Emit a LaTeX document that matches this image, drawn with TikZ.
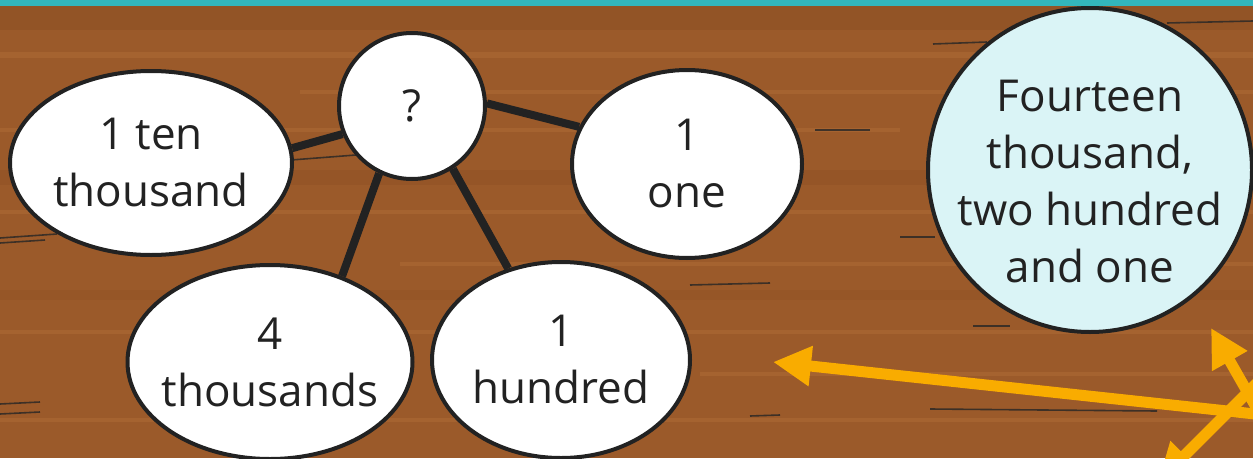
\documentclass[tikz,border=0pt]{standalone}
\usepackage{fontspec}
\setmainfont{Open Sans}
\usetikzlibrary{shapes.geometric,arrows.meta}
\definecolor{wood}{HTML}{9B5A2A}
\definecolor{woodlight}{HTML}{B8763C}
\definecolor{wooddark}{HTML}{84491F}
\definecolor{barteal}{HTML}{33B6BC}
\definecolor{ink}{HTML}{222222}
\definecolor{paleblue}{HTML}{DAF4F6}
\definecolor{amber}{HTML}{F9AC00}
\pgfdeclarelayer{bg}
\pgfdeclarelayer{links}
\pgfsetlayers{bg,links,main}
\begin{document}
\begin{tikzpicture}[x=1pt,y=-1pt,
  bubble/.style={ellipse, draw=ink, line width=4pt, fill=white, inner xsep=-10pt, inner ysep=-8pt,
    align=center, font=\fontsize{44}{57}\selectfont, text=ink},
  link/.style={draw=ink, line width=8pt},
  scratch/.style={draw=black!85, line width=1.6pt, opacity=0.8},
  streak/.style={fill=woodlight, opacity=0.35},
  arrowline/.style={draw=amber, line width=11pt, -{Triangle[length=38pt,width=38pt]}}]
\useasboundingbox (0,0) rectangle (1253,458);
\clip (0,0) rectangle (1253,458);
\begin{pgfonlayer}{bg}
\fill[wood] (0,0) rectangle (1253,458);
\fill[wooddark, opacity=0.35] (0,6) rectangle (1253,30);
\fill[streak] (0,52) rectangle (1253,58);
\fill[streak] (300,90) rectangle (1253,94);
\fill[streak] (0,128) rectangle (900,132);
\fill[wooddark, opacity=0.25] (0,170) rectangle (1253,185);
\fill[streak] (0,210) rectangle (1253,214);
\fill[streak] (400,262) rectangle (1253,266);
\fill[wooddark, opacity=0.2] (0,290) rectangle (1253,300);
\fill[streak] (0,330) rectangle (1253,334);
\fill[streak] (700,372) rectangle (1253,376);
\fill[streak] (0,418) rectangle (1253,422);
\draw[scratch] (1167,23) -- (1253,21);
\draw[scratch] (933,44) -- (987,42);
\draw[scratch] (815,130) -- (870,130);
\draw[scratch] (291,160) -- (356,155);
\draw[scratch] (0,238) -- (57,234);
\draw[scratch] (0,243) -- (45,240);
\draw[scratch] (900,237) -- (935,237);
\draw[scratch] (690,285) -- (770,283);
\draw[scratch] (973,326) -- (1010,326);
\draw[scratch] (930,409) -- (1157,411);
\draw[scratch] (0,404) -- (40,402);
\draw[scratch] (0,414) -- (40,412);
\draw[scratch] (750,416) -- (780,415);
\fill[barteal] (0,0) rectangle (1253,6);
\end{pgfonlayer}

\node[bubble, minimum width=282pt, minimum height=184pt] (ten) at (151,163) {1 ten\\thousand};
\node[bubble, circle, minimum size=146pt] (q) at (412,106) {?};
\node[bubble, minimum width=230pt, minimum height=188pt] (one) at (687,164) {1\\one};
\node[bubble, minimum width=285pt, minimum height=194pt] (ths) at (270,362) {4\\thousands};
\node[bubble, minimum width=258pt, minimum height=196pt] (hun) at (561,360) {1\\hundred};
\node[bubble, circle, fill=paleblue, minimum size=324pt,
  label={[yshift=-12pt, align=center, font=\fontsize{44}{57}\selectfont, text=ink]center:Fourteen\\thousand,\\two hundred\\and one}] (ans) at (1090,170) {};

\begin{pgfonlayer}{links}
\draw[link] (q.202) -- (ten.6);
\draw[link] (q.2) -- (one.161);
\draw[link] (q.244) -- (ths.50);
\draw[link] (q.303) -- (hun.120);
\end{pgfonlayer}

\coordinate (a1end) at (1320,421);
\coordinate (a1tip) at (773,362);
\coordinate (a2end) at (1285,458);
\coordinate (a2tip) at (1211,328);
\coordinate (a3end) at (1300,340);
\coordinate (a3tip) at (1158,482);
\draw[arrowline] (a1end) -- (a1tip);
\draw[arrowline] (a2end) -- (a2tip);
\draw[arrowline] (a3end) -- (a3tip);
\end{tikzpicture}
\end{document}
